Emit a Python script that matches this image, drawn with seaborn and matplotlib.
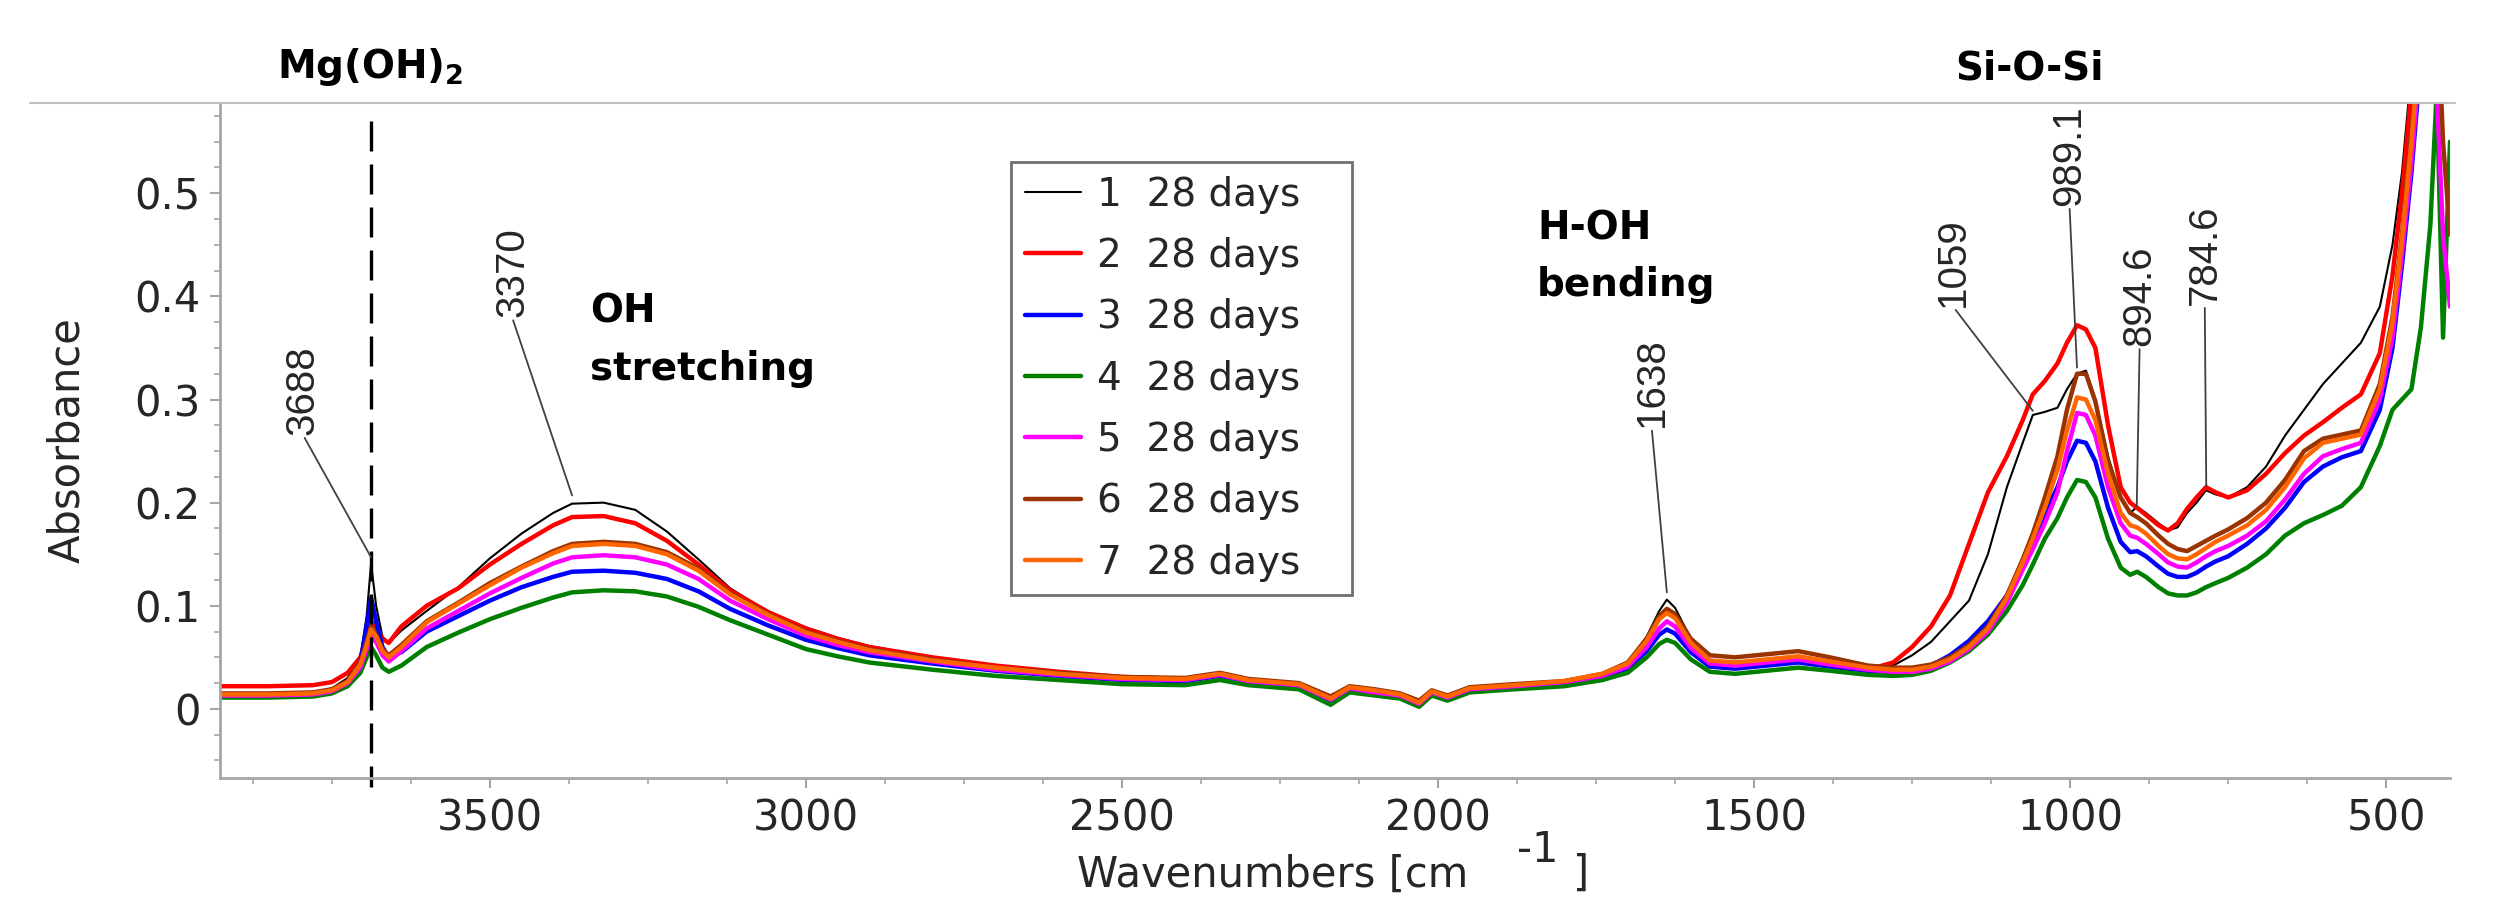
import numpy as np
import pandas as pd
import seaborn as sns
import matplotlib.pyplot as plt
from matplotlib.lines import Line2D
from matplotlib.ticker import MultipleLocator, FuncFormatter

# wavenumbers (cm-1)
wavenumber = [3927, 3850, 3780, 3750, 3725, 3705, 3695, 3688, 3680, 3670,
              3660, 3640, 3600, 3550, 3500, 3450, 3400, 3370, 3320, 3270,
              3220, 3170, 3120, 3060, 3000, 2950, 2900, 2800, 2700, 2600,
              2500, 2400, 2345, 2300, 2220, 2170, 2140, 2100, 2060, 2030,
              2010, 1985, 1950, 1880, 1800, 1740, 1700, 1670, 1650, 1638,
              1625, 1600, 1570, 1530, 1480, 1430, 1380, 1320, 1280, 1250,
              1220, 1190, 1160, 1130, 1100, 1075, 1059, 1040, 1020, 1005,
              989, 975, 960, 940, 920, 905, 894, 880, 860, 845,
              830, 815, 800, 785, 770, 750, 720, 690, 660, 630,
              600, 570, 540, 510, 490, 475, 460, 445, 430, 420,
              410, 399]

abs_1 = [.015, .015, .016, .020, .030, .050, .090, .141, .100, .070,
         .064, .076, .095, .118, .146, .170, .190, .199, .200, .193,
         .172, .145, .117, .094, .079, .069, .061, .050, .042, .036,
         .031, .029, .032, .028, .024, .012, .020, .018, .014, .006,
         .016, .012, .020, .023, .026, .033, .045, .070, .095, .106,
         .098, .068, .047, .042, .045, .050, .045, .040, .042, .052,
         .065, .085, .105, .150, .215, .258, .285, .288, .292, .310,
         .325, .328, .300, .245, .205, .190, .196, .190, .180, .173,
         .176, .190, .200, .212, .208, .205, .215, .235, .265, .290,
         .315, .335, .355, .390, .450, .520, .620, .700, .750, .720,
         .700, .680]

abs_2 = [.022, .022, .023, .026, .035, .050, .070, .085, .080, .068,
         .064, .080, .100, .117, .140, .160, .178, .186, .187, .180,
         .163, .140, .115, .094, .078, .068, .060, .050, .042, .036,
         .031, .029, .032, .028, .024, .012, .020, .018, .014, .004,
         .016, .012, .020, .023, .026, .032, .043, .066, .088, .096,
         .090, .063, .045, .040, .043, .047, .042, .038, .045, .060,
         .080, .110, .160, .210, .245, .280, .305, .318, .335, .355,
         .372, .368, .350, .275, .215, .200, .195, .188, .178, .173,
         .180, .194, .205, .215, .210, .205, .212, .228, .248, .265,
         .278, .292, .305, .345, .420, .500, .600, .700, .750, .720,
         .700, .680]

abs_3 = [.013, .013, .014, .017, .026, .045, .080, .108, .085, .060,
         .050, .055, .075, .090, .105, .118, .128, .133, .134, .132,
         .126, .114, .097, .081, .067, .059, .052, .044, .037, .032,
         .028, .027, .032, .026, .022, .007, .019, .016, .012, .004,
         .015, .010, .018, .021, .025, .031, .039, .056, .072, .077,
         .073, .055, .041, .039, .042, .045, .041, .037, .036, .037,
         .042, .052, .066, .085, .110, .140, .160, .190, .215, .240,
         .260, .258, .240, .195, .162, .152, .153, .148, .138, .131,
         .128, .128, .132, .138, .143, .148, .160, .175, .195, .220,
         .235, .244, .250, .290, .350, .430, .520, .630, .700, .700,
         .700, .680]

abs_4 = [.011, .011, .012, .015, .022, .035, .050, .060, .052, .040,
         .036, .042, .060, .074, .087, .098, .108, .113, .115, .114,
         .109, .099, .086, .072, .058, .051, .045, .038, .032, .028,
         .024, .023, .028, .023, .019, .004, .016, .013, .010, .002,
         .013, .008, .016, .019, .022, .028, .035, .050, .063, .067,
         .064, .048, .036, .034, .037, .040, .037, .033, .032, .033,
         .037, .045, .056, .072, .095, .120, .140, .165, .185, .205,
         .222, .220, .205, .165, .137, .130, .133, .128, .118, .112,
         .110, .110, .113, .118, .122, .127, .137, .150, .168, .180,
         .188, .197, .215, .255, .290, .300, .310, .370, .470, .600,
         .360, .550]

abs_5 = [.013, .013, .014, .017, .025, .040, .058, .070, .065, .052,
         .046, .056, .078, .095, .112, .127, .141, .147, .149, .147,
         .140, .126, .105, .087, .071, .062, .055, .046, .038, .033,
         .029, .028, .033, .027, .023, .009, .020, .016, .013, .005,
         .016, .011, .019, .022, .026, .032, .041, .060, .078, .085,
         .080, .059, .044, .042, .045, .048, .043, .038, .036, .036,
         .039, .046, .058, .075, .103, .135, .155, .180, .210, .250,
         .287, .285, .265, .215, .180, .168, .166, .160, .150, .142,
         .138, .137, .142, .148, .153, .158, .168, .182, .203, .228,
         .245, .252, .258, .300, .360, .440, .530, .640, .700, .600,
         .460, .390]

abs_6 = [.015, .015, .016, .019, .027, .045, .065, .080, .072, .058,
         .052, .062, .085, .103, .122, .138, .153, .160, .162, .160,
         .152, .136, .112, .092, .075, .066, .058, .048, .040, .035,
         .031, .030, .035, .029, .025, .012, .022, .019, .015, .008,
         .018, .013, .021, .024, .027, .034, .045, .068, .090, .097,
         .092, .068, .052, .050, .053, .056, .050, .042, .040, .040,
         .043, .050, .062, .080, .110, .145, .170, .205, .245, .290,
         .325, .325, .298, .240, .205, .190, .186, .180, .168, .160,
         .155, .153, .158, .163, .168, .174, .185, .200, .222, .250,
         .262, .266, .270, .315, .380, .460, .560, .660, .720, .700,
         .550, .460]

abs_7 = [.014, .014, .015, .018, .026, .043, .062, .077, .070, .056,
         .050, .060, .084, .102, .120, .137, .151, .158, .160, .158,
         .150, .134, .111, .091, .074, .065, .057, .047, .040, .034,
         .030, .029, .034, .028, .024, .010, .021, .018, .014, .006,
         .017, .012, .020, .023, .027, .034, .044, .066, .087, .093,
         .088, .064, .047, .045, .048, .051, .046, .040, .038, .038,
         .041, .048, .060, .078, .108, .142, .165, .195, .232, .270,
         .302, .300, .280, .228, .190, .178, .176, .170, .158, .150,
         .146, .145, .150, .156, .162, .168, .178, .193, .215, .243,
         .258, .262, .266, .310, .375, .455, .550, .660, .720, .700,
         .700, .680]

sample_names = ['1  28 days', '2  28 days', '3  28 days', '4  28 days',
                '5  28 days', '6  28 days', '7  28 days']
sample_colors = ['#000000', '#ff0000', '#0000ff', '#008000',
                 '#ff00ff', '#993300', '#ff6600']
series = [abs_1, abs_2, abs_3, abs_4, abs_5, abs_6, abs_7]

# peak labels: text, peak position, text anchor
peak_labels = ['3688', '3370', '1638', '1059', '989.1', '894.6', '784.6']
peak_x = [3688, 3370, 1638, 1059, 989.1, 894.6, 784.6]
peak_y = [0.147, 0.207, 0.113, 0.289, 0.331, 0.196, 0.216]
label_x = [3796, 3465, 1662, 1185, 1001, 890, 787]
label_y = [0.266, 0.380, 0.273, 0.390, 0.488, 0.352, 0.392]

W, H = 2493, 897

df = pd.concat([pd.DataFrame({'Wavenumber': wavenumber, 'Absorbance': s, 'Sample': n})
                for s, n in zip(series, sample_names)], ignore_index=True)

sns.set_theme(style='ticks')
plt.rcParams['font.family'] = ['DejaVu Sans']
plt.rcParams['mathtext.fontset'] = 'dejavusans'

fig = plt.figure(figsize=(W / 100, H / 100), dpi=100)
ax = fig.add_axes([220 / W, 1 - 778 / H, (2450 - 220) / W, (778 - 103) / H])

handles = []
for name, col in zip(sample_names, sample_colors):
    sub = df[df['Sample'] == name]
    sns.lineplot(data=sub, x='Wavenumber', y='Absorbance', color=col,
                 lw=1.5 if col == '#000000' else 3.2, ax=ax, sort=False,
                 estimator=None)
    handles.append(ax.lines[-1])
if ax.get_legend() is not None:
    ax.get_legend().remove()

ax.set_xlim(3927, 399)
ax.set_ylim(-0.067, 0.5875)
ax.set_xlabel('')
ax.set_ylabel('')

ax.xaxis.set_major_locator(MultipleLocator(500))
ax.xaxis.set_minor_locator(MultipleLocator(125))
ax.yaxis.set_major_locator(MultipleLocator(0.1))
ax.yaxis.set_minor_locator(MultipleLocator(0.025))
ax.yaxis.set_major_formatter(FuncFormatter(lambda v, _: '0' if abs(v) < 1e-9 else f'{v:.1f}'))

grey = '#a6a6a6'
for side in ['top', 'right']:
    ax.spines[side].set_visible(False)
for side in ['left', 'bottom']:
    ax.spines[side].set_color(grey)
    ax.spines[side].set_linewidth(2)
ax.tick_params(which='major', length=7, width=1.5, color=grey, labelsize=30, pad=7,
               left=True, bottom=True)
ax.tick_params(which='minor', length=4.5, width=1.2, color=grey, left=True, bottom=True)

# Mg(OH)2 marker line
ax.plot([3688, 3688], [0.570, -0.076], color='black', lw=2.4, dashes=(9, 3.9), clip_on=False)

# peak labels with leader lines
for t, px, py, tx, ty in zip(peak_labels, peak_x, peak_y, label_x, label_y):
    ax.annotate(t, xy=(px, py), xytext=(tx, ty), rotation=90, ha='center', va='bottom',
                fontsize=29, family='Liberation Sans', annotation_clip=False,
                arrowprops=dict(arrowstyle='-', color='#404040', lw=1.3,
                                shrinkA=0, shrinkB=0, relpos=(0.5, 0)))

# band names
bold = dict(fontsize=28, fontweight='bold', color='black')
fig.text(370 / W, 1 - 78 / H, r'Mg(OH)$_\mathbf{2}$', ha='center', va='baseline', **bold)
fig.text(2030 / W, 1 - 79 / H, 'Si-O-Si', ha='center', va='baseline', **bold)
fig.text(590 / W, 1 - 322 / H, 'OH', ha='left', va='baseline', **bold)
fig.text(590 / W, 1 - 380 / H, 'stretching', ha='left', va='baseline', **bold)
fig.text(1537 / W, 1 - 239 / H, 'H-OH', ha='left', va='baseline', **bold)
fig.text(1537 / W, 1 - 296 / H, 'bending', ha='left', va='baseline', **bold)

# axis titles
fig.text(67 / W, 1 - 440 / H, 'Absorbance', rotation=90, ha='center', va='center', fontsize=30)
fig.text(1077 / W, 1 - 887 / H, 'Wavenumbers [cm', ha='left', va='baseline', fontsize=30)
fig.text(1517 / W, 1 - 862 / H, '-1', ha='left', va='baseline', fontsize=30)
fig.text(1573 / W, 1 - 886 / H, ']', ha='left', va='baseline', fontsize=30)

# grey rule along the top
fig.add_artist(Line2D([30 / W, 2455 / W], [1 - 103 / H, 1 - 103 / H], color='#c0c0c0', lw=1.5))

leg = fig.legend(handles, sample_names, loc='upper left',
                 bbox_to_anchor=(1011 / W, 1 - 598 / H, 341 / W, 436 / H), mode='expand',
                 fontsize=28, handlelength=1.45, handletextpad=0.4, labelspacing=0.6,
                 borderpad=0.35, borderaxespad=0, fancybox=False, framealpha=1)
leg.get_frame().set_edgecolor('#707070')
leg.get_frame().set_linewidth(2)

fig.savefig('out.png', dpi=100)
